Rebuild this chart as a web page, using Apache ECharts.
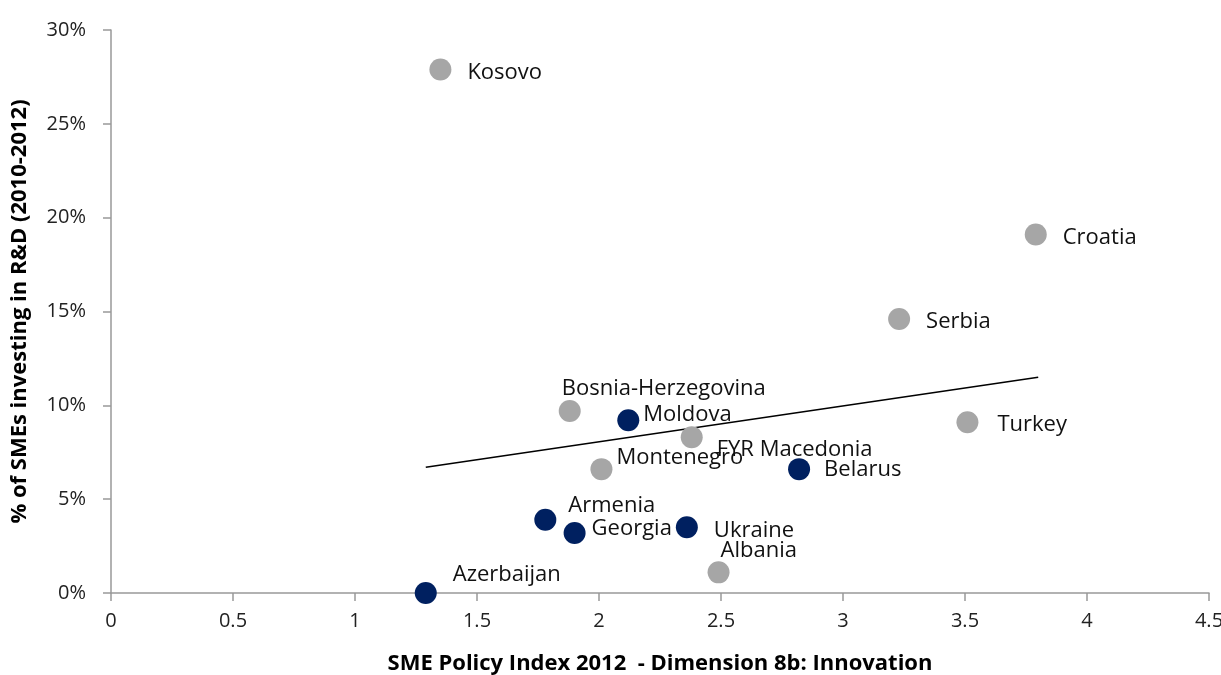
<!DOCTYPE html>
<html>
<head>
<meta charset="utf-8">
<script src="https://cdn.jsdelivr.net/npm/echarts@6/dist/echarts.min.js"></script>
<style>
  html, body { margin: 0; padding: 0; background: #fff; }
  #chart { width: 1221px; height: 675px; }
</style>
</head>
<body>
<div id="chart"></div>
<script>
// grey points: policy index (x), % investing in R&D (y)
var greyNames = ["Kosovo", "Croatia", "Serbia", "Turkey", "Bosnia-Herzegovina", "FYR Macedonia", "Montenegro", "Albania"];
var greyX = [1.35, 3.79, 3.23, 3.51, 1.88, 2.38, 2.01, 2.49];
var greyY = [27.9, 19.1, 14.6, 9.1, 9.7, 8.3, 6.6, 1.1];

// navy points
var navyNames = ["Moldova", "Belarus", "Armenia", "Georgia", "Ukraine", "Azerbaijan"];
var navyX = [2.12, 2.82, 1.78, 1.90, 2.36, 1.29];
var navyY = [9.2, 6.6, 3.9, 3.2, 3.5, 0.0];

// trend line end points
var trendX = [1.29, 3.80];
var trendY = [6.7, 11.5];

// label offset from marker centre (px)
var labelOffset = {
  "Kosovo": [27, 3], "Croatia": [27, 3], "Serbia": [27, 3], "Turkey": [30, 3],
  "Bosnia-Herzegovina": [-8, -22], "FYR Macedonia": [25, 12], "Montenegro": [15, -11],
  "Albania": [2, -22], "Moldova": [15, -6], "Belarus": [25, 1], "Armenia": [23, -14],
  "Georgia": [17, -4], "Ukraine": [27, 3], "Azerbaijan": [27, -18]
};

var SYM = 22;
function pts(xs, ys, names) {
  return xs.map(function (x, i) {
    var o = labelOffset[names[i]];
    return {
      name: names[i],
      value: [x, ys[i]],
      label: { position: [SYM / 2 + o[0], SYM / 2 + o[1]] }
    };
  });
}

var font = "'Open Sans', 'Noto Sans', sans-serif";
var labelStyle = { show: true, formatter: "{b}", fontSize: 22, color: "#111", align: "left", verticalAlign: "middle" };
var chart = echarts.init(document.getElementById("chart"));
chart.setOption({
  animation: false,
  textStyle: { fontFamily: font },
  grid: { left: 111, right: 12, top: 30, bottom: 82, outerBoundsMode: "none" },
  xAxis: {
    type: "value",
    min: 0, max: 4.5, interval: 0.5,
    name: "SME Policy Index 2012  - Dimension 8b: Innovation",
    nameLocation: "middle",
    nameGap: 60,
    nameTextStyle: { fontFamily: font, fontSize: 22, fontWeight: "bold", color: "#000" },
    axisLine: { lineStyle: { color: "#999", width: 1.5 } },
    axisTick: { show: true, length: 8, lineStyle: { color: "#999", width: 1.5 } },
    axisLabel: { fontSize: 20, color: "#222", margin: 18 },
    splitLine: { show: false }
  },
  yAxis: {
    type: "value",
    min: 0, max: 30, interval: 5,
    name: "% of SMEs investing in R&D (2010-2012)",
    nameLocation: "middle",
    nameGap: 80,
    nameRotate: 90,
    nameTextStyle: { fontFamily: font, fontSize: 22, fontWeight: "bold", color: "#000" },
    axisLine: { show: true, lineStyle: { color: "#999", width: 1.5 } },
    axisTick: { show: true, length: 8, lineStyle: { color: "#999", width: 1.5 } },
    axisLabel: { fontSize: 20, color: "#222", margin: 25, formatter: "{value}%" },
    splitLine: { show: false }
  },
  series: [
    {
      type: "line",
      data: trendX.map(function (x, i) { return [x, trendY[i]]; }),
      symbol: "none",
      lineStyle: { color: "#000", width: 1.5 },
      z: 1
    },
    {
      type: "scatter",
      data: pts(greyX, greyY, greyNames),
      symbolSize: SYM,
      itemStyle: { color: "#a6a6a6", opacity: 1 },
      label: labelStyle,
      z: 2
    },
    {
      type: "scatter",
      data: pts(navyX, navyY, navyNames),
      symbolSize: SYM,
      itemStyle: { color: "#002060", opacity: 1 },
      label: labelStyle,
      z: 3
    }
  ]
});
</script>
</body>
</html>
